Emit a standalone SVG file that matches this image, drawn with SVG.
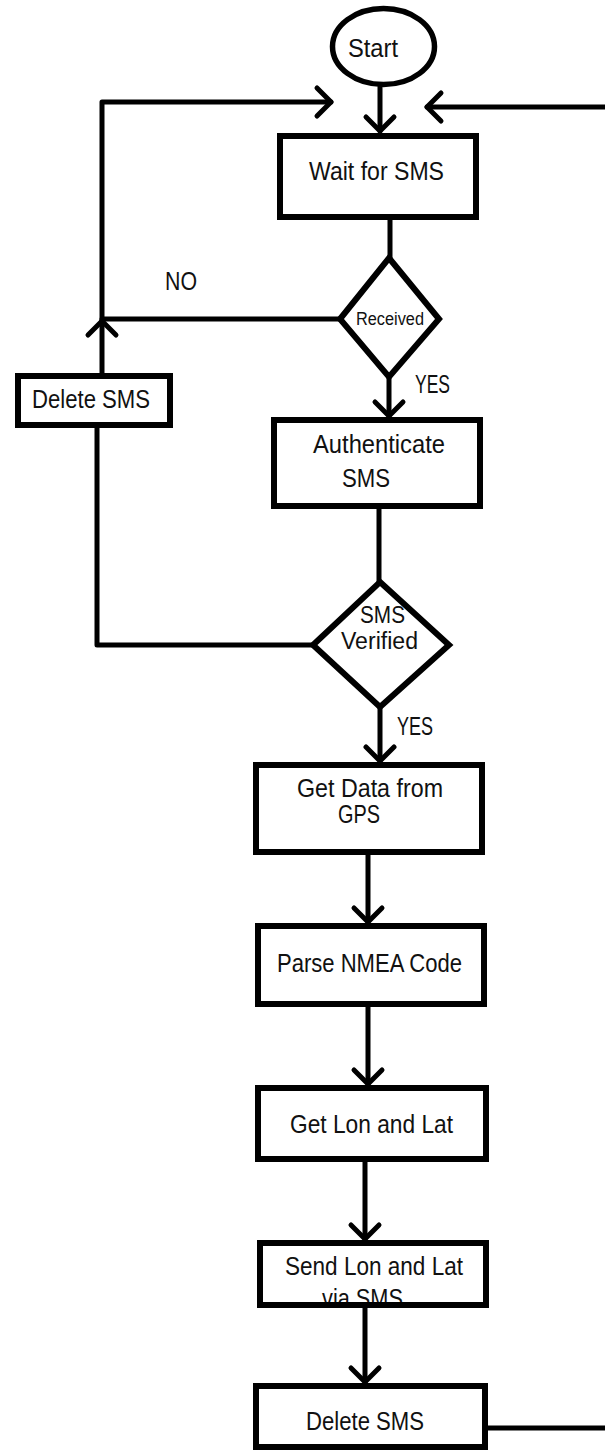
<svg xmlns="http://www.w3.org/2000/svg" width="605" height="1452" viewBox="0 0 605 1452">
  <style>
    .box { fill: #fff; stroke: #000; stroke-width: 6; }
    .frame { fill: none; stroke: #000; stroke-width: 6; }
    .link { fill: none; stroke: #000; stroke-width: 5; stroke-linecap: round; stroke-linejoin: round; }
    .arrow { marker-end: url(#chev); }
    text { font-family: "Liberation Sans", Arial, sans-serif; font-size: 25px; fill: #111; }
    .small { font-size: 18px; }
    .tight { font-size: 23px; }
  </style>
  <defs>
    <!-- open chevron arrowhead used on every flow arrow -->
    <marker id="chev" markerUnits="userSpaceOnUse" viewBox="-20 -20 24 40" markerWidth="24" markerHeight="40" refX="0" refY="0" orient="auto" overflow="visible">
      <path d="M-14,-14 L0,0 L-14,14" fill="none" stroke="#000" stroke-width="5" stroke-linecap="round" stroke-linejoin="round"/>
    </marker>
  </defs>

  <!-- connectors -->
  <g id="connectors">
    <path class="link arrow" d="M380,87 V131"/>
    <path class="link" d="M390,220 V258"/>
    <path class="link arrow" d="M389,377 V416"/>
    <path class="link" d="M340,319 H102"/>
    <path class="link arrow" d="M102,373 V321"/>
    <path class="link arrow" d="M102,321 V102 H331"/>
    <path class="link" d="M379,509 V582"/>
    <path class="link" d="M313,645 H97 V428"/>
    <path class="link arrow" d="M380,707 V761"/>
    <path class="link arrow" d="M368,855 V922"/>
    <path class="link arrow" d="M368,1007 V1084"/>
    <path class="link arrow" d="M365,1162 V1239"/>
    <path class="link arrow" d="M365,1308 V1382"/>
    <path class="link arrow" d="M488,1428 H615 V107 H427"/>
    <text x="165" y="290" textLength="32" lengthAdjust="spacingAndGlyphs">NO</text>
    <text x="415" y="393" textLength="35" lengthAdjust="spacingAndGlyphs">YES</text>
    <text x="397" y="735" textLength="36" lengthAdjust="spacingAndGlyphs">YES</text>
  </g>

  <g id="start">
    <ellipse class="box" cx="383.5" cy="46.5" rx="51" ry="38" style="stroke-width:5.5"/>
    <text x="348" y="57" textLength="50" lengthAdjust="spacingAndGlyphs">Start</text>
  </g>

  <g id="wait-sms">
    <rect class="box" x="280" y="136" width="196" height="81"/>
    <text x="309" y="180" textLength="135" lengthAdjust="spacingAndGlyphs">Wait for SMS</text>
  </g>

  <g id="received">
    <polygon class="box" points="389,258 439,319 389,377 340,319"/>
    <text class="small" x="356" y="325" textLength="68" lengthAdjust="spacingAndGlyphs">Received</text>
  </g>

  <g id="delete-sms-reject">
    <rect class="box" x="18" y="376" width="152" height="49"/>
    <text x="32" y="408" textLength="118" lengthAdjust="spacingAndGlyphs">Delete SMS</text>
  </g>

  <g id="authenticate">
    <rect class="box" x="274" y="420" width="206" height="86"/>
    <text x="313" y="453" textLength="132" lengthAdjust="spacingAndGlyphs">Authenticate</text>
    <text x="342" y="487" textLength="48" lengthAdjust="spacingAndGlyphs">SMS</text>
  </g>

  <g id="sms-verified">
    <polygon class="box" points="380,582 449,645 380,707 313,645"/>
    <text class="tight" x="360" y="623" textLength="45" lengthAdjust="spacingAndGlyphs">SMS</text>
    <text class="tight" x="341" y="649" textLength="77" lengthAdjust="spacingAndGlyphs">Verified</text>
  </g>

  <g id="get-gps">
    <rect class="box" x="256" y="765" width="226" height="87"/>
    <text x="297" y="797" textLength="146" lengthAdjust="spacingAndGlyphs">Get Data from</text>
    <text x="338" y="823" textLength="42" lengthAdjust="spacingAndGlyphs">GPS</text>
  </g>

  <g id="parse-nmea">
    <rect class="box" x="258" y="926" width="226" height="78"/>
    <text x="277" y="972" textLength="185" lengthAdjust="spacingAndGlyphs">Parse NMEA Code</text>
  </g>

  <g id="get-lon-lat">
    <rect class="box" x="258" y="1088" width="228" height="71"/>
    <text x="290" y="1133" textLength="163" lengthAdjust="spacingAndGlyphs">Get Lon and Lat</text>
  </g>

  <g id="send-sms">
    <rect x="260" y="1243" width="226" height="62" fill="#fff"/>
    <text x="285" y="1275" textLength="178" lengthAdjust="spacingAndGlyphs">Send Lon and Lat</text>
    <text x="322" y="1307" textLength="81" lengthAdjust="spacingAndGlyphs">via SMS</text>
    <!-- border drawn over the second line, which runs into the bottom edge -->
    <rect class="frame" x="260" y="1243" width="226" height="62"/>
  </g>

  <g id="delete-sms-done">
    <rect class="box" x="256" y="1386" width="229" height="61"/>
    <text x="306" y="1430" textLength="118" lengthAdjust="spacingAndGlyphs">Delete SMS</text>
  </g>
</svg>
